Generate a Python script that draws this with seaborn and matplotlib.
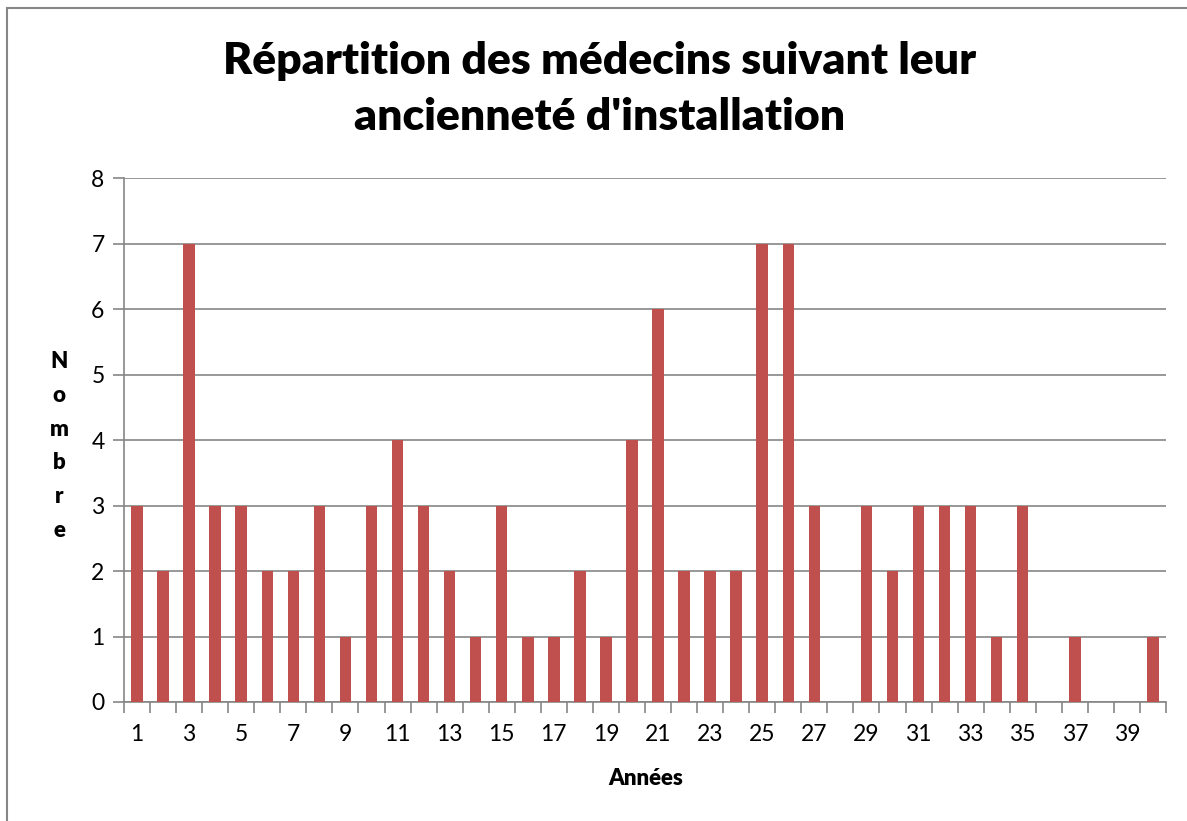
"""
Répartition des médecins suivant leur ancienneté d'installation
"""
import matplotlib
matplotlib.use("Agg")
import matplotlib.pyplot as plt
from matplotlib.patches import Rectangle
import numpy as np
import pandas as pd
import seaborn as sns

# données
annees = list(range(1, 41))
nombre = [3, 2, 7, 3, 3, 2, 2, 3, 1, 3,
          4, 3, 2, 1, 3, 1, 1, 2, 1, 4,
          6, 2, 2, 2, 7, 7, 3, 0, 3, 2,
          3, 3, 3, 1, 3, 0, 1, 0, 0, 1]
titre = "Répartition des médecins suivant leur\nancienneté d'installation"

sns.set_style("white")
plt.rcParams['font.family'] = ['Lato', 'DejaVu Sans']
plt.rcParams['text.color'] = 'black'

df = pd.DataFrame({'annee': annees, 'nombre': nombre})

W, H = 1187, 821
fig = plt.figure(figsize=(W / 100, H / 100), dpi=100)
ax = fig.add_axes([124 / W, 1 - 702 / H, (1166 - 124) / W, (702 - 178) / H])

sns.barplot(data=df, x='annee', y='nombre', color='#C0504D', saturation=1,
            width=0.44, linewidth=0, ax=ax, zorder=3)

ax.set_ylim(0, 8)
ax.set_xlim(-0.5, len(annees) - 0.5)
ax.set_yticks(range(0, 9))
ax.yaxis.grid(True, color='#868686', linewidth=1.2, zorder=0)
ax.tick_params(axis='y', length=8, width=1.2, color='#868686',
               labelsize=16.5, pad=6, left=True, labelcolor='black')

# graduations entre catégories, étiquettes une sur deux
ax.set_xticks(np.arange(-0.5, len(annees), 1), minor=False)
ax.set_xticklabels([])
ax.set_xticks(range(0, len(annees), 2), minor=True)
ax.set_xticklabels([str(a) for a in annees[::2]], minor=True)
ax.tick_params(axis='x', which='major', length=8, width=1.2,
               color='#868686', bottom=True)
ax.tick_params(axis='x', which='minor', length=0, labelsize=16.5, pad=16,
               labelcolor='black')

for s in ['top', 'right']:
    ax.spines[s].set_visible(False)
for s in ['left', 'bottom']:
    ax.spines[s].set_color('#868686')
    ax.spines[s].set_linewidth(1.2)

ax.set_xlabel('')
ax.set_ylabel('')

fig.text(646 / W, 1 - 778 / H, 'Années', ha='center', va='center',
         fontsize=16, fontweight='heavy')
fig.text(59 / W, 1 - 446 / H, 'N\no\nm\nb\nr\ne', ha='center',
         va='center', fontsize=16, fontweight='heavy', linespacing=1.75)
fig.text(600 / W, 1 - 89 / H, titre, ha='center', va='center',
         fontsize=32, fontweight='heavy', linespacing=1.5)

# cadre du graphique
fig.patches.append(Rectangle((7 / W, -0.1), 1.2, 1 - 8 / H + 0.1,
                             transform=fig.transFigure, fill=False,
                             edgecolor='#868686', linewidth=1.5))

plt.savefig('out.png', dpi=100)
